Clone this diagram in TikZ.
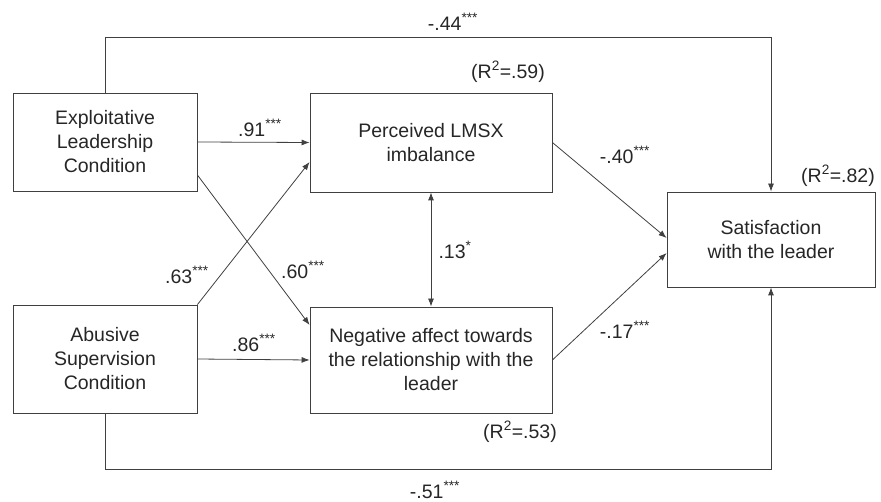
\documentclass[tikz,border=0pt]{standalone}
\usepackage{fontspec}
\setmainfont{Liberation Sans}
\usepackage{tikz}
\usetikzlibrary{arrows.meta}
\tikzset{
  varbox/.style={
    draw=black!75,
    rectangle,
    align=center,
    inner sep=2pt,
    text=black!85,
    font=\fontsize{19.5}{24}\selectfont
  },
  coef/.style={
    text=black!85,
    inner sep=0pt,
    font=\fontsize{19.5}{24}\selectfont
  },
  path/.style={
    draw=black!75,
    line width=0.8pt,
    -{Latex[length=8pt,width=6pt]}
  }
}

\begin{document}
\begin{tikzpicture}[line width=0.8pt, x=1pt, y=-1pt]
  \useasboundingbox (0,0) rectangle (881,502);

  \node[varbox, minimum width=184, minimum height=98] (expl) at (105,142) {Exploitative\\Leadership\\Condition};
  \node[varbox, minimum width=184, minimum height=108] (abus) at (105,359) {Abusive\\Supervision\\Condition};
  \node[varbox, minimum width=242, minimum height=99] (lmsx) at (431,142.5) {Perceived LMSX\\imbalance};
  \node[varbox, minimum width=242, minimum height=106] (neg) at (431,360) {Negative affect towards\\the relationship with the\\leader};
  \node[varbox, minimum width=208, minimum height=95] (sat) at (771,239.5) {Satisfaction\\with the leader};

  \coordinate (topbend) at (771,37);
  \coordinate (botbend) at (771,469);

  \draw[path] (expl.east) -- (lmsx.west);
  \draw[path] (abus.east) -- (neg.west);
  \draw[path] ([yshift=-33pt]expl.east) -- ([yshift=35pt]neg.west);
  \draw[path] (abus.north east) -- ([yshift=-19.5pt]lmsx.west);
  \draw[path] (lmsx.east) -- ([yshift=1.5pt]sat.west);
  \draw[path] (neg.east) -- ([yshift=-13.5pt]sat.west);
  \draw[path, {Latex[length=8pt,width=6pt]}-{Latex[length=8pt,width=6pt]}] (lmsx.south) -- (neg.north);
  \draw[path] (expl.north) |- (topbend) -- (sat.north);
  \draw[path] (abus.south) |- (botbend) -- (sat.south);

  \node[coef] (c44) at (453,22) {-.44\textsuperscript{***}};
  \node[coef] (r59) at (508,72) {(R\textsuperscript{2}=.59)};
  \node[coef] (c91) at (260,128) {.91\textsuperscript{***}};
  \node[coef] (c40) at (625,155) {-.40\textsuperscript{***}};
  \node[coef] (r82) at (838,176) {(R\textsuperscript{2}=.82)};
  \node[coef] (c13) at (455,250) {.13\textsuperscript{*}};
  \node[coef] (c63) at (187,275) {.63\textsuperscript{***}};
  \node[coef] (c60) at (303,270) {.60\textsuperscript{***}};
  \node[coef] (c86) at (254,343) {.86\textsuperscript{***}};
  \node[coef] (c17) at (625,330) {-.17\textsuperscript{***}};
  \node[coef] (r53) at (520,432) {(R\textsuperscript{2}=.53)};
  \node[coef] (c51) at (435,490) {-.51\textsuperscript{***}};
\end{tikzpicture}
\end{document}
